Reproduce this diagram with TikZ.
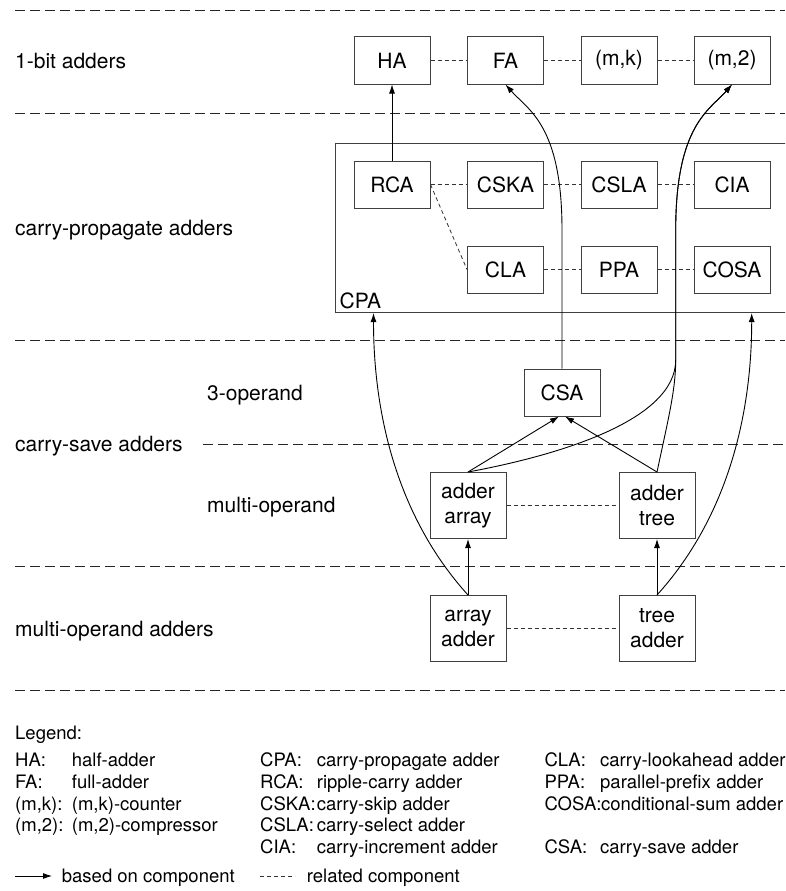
\documentclass[tikz,border=0pt]{standalone}
\usepackage{fontspec}
\setmainfont{TeX Gyre Heros}
\usetikzlibrary{arrows.meta,calc}
\begin{document}
\begin{tikzpicture}[x=1pt,y=-1pt,
  box/.style={draw=black!75, line width=1pt, minimum width=76pt, minimum height=47pt, inner sep=0pt, font=\fontsize{21}{25}\selectfont, align=center},
  tall/.style={box, minimum height=66pt},
  sep/.style={dash pattern=on 10pt off 5pt, line width=0.9pt, black!85},
  rel/.style={dash pattern=on 4pt off 3pt, line width=0.8pt, black!80},
  dep/.style={line width=0.9pt, -{Latex[length=9pt,width=6pt]}},
  lab/.style={anchor=base west, inner sep=0pt, font=\fontsize{21}{25}\selectfont},
  leg/.style={anchor=base west, inner sep=0pt, font=\fontsize{18.5}{22}\selectfont},
]
\path[use as bounding box, clip] (0,0) rectangle (785,891);
\fill[white] (0,0) rectangle (785,891);

% separators
\draw[sep] (15,10) -- (785,10);
\draw[sep] (15,113) -- (785,113);
\draw[sep] (15,340.7) -- (785,340.7);
\draw[sep] (203,444.3) -- (785,444.3);
\draw[sep] (15,566.7) -- (785,566.7);
\draw[sep] (15,690) -- (785,690);

% row labels
\node[lab] (l1) at (15,69) {1-bit adders};
\node[lab] (l2) at (15,235) {carry-propagate adders};
\node[lab] (l3) at (207,400) {3-operand};
\node[lab] (l4) at (15,451.8) {carry-save adders};
\node[lab] (l5) at (207,512) {multi-operand};
\node[lab] (l6) at (15,636) {multi-operand adders};

% CPA frame
\node[draw=black!75, line width=1pt, minimum width=465pt, minimum height=169pt, inner sep=0pt, anchor=north west] (cpa) at (335,143) {};
\node[lab] (cpalab) at (339.5,308.5) {CPA};

% 1-bit adders
\node[box] (HA) at (392,60.5) {HA};
\node[box] (FA) at (505.5,60.5) {FA};
\node[box] (MK) at (619,60.5) {(m,k)};
\node[box] (M2) at (732,60.5) {(m,2)};

% CPAs
\node[box] (RCA) at (392,184.5) {RCA};
\node[box] (CSKA) at (505.5,184.5) {CSKA};
\node[box] (CSLA) at (619,184.5) {CSLA};
\node[box] (CIA) at (732,184.5) {CIA};
\node[box] (CLA) at (505.5,269.5) {CLA};
\node[box] (PPA) at (619,269.5) {PPA};
\node[box] (COSA) at (732,269.5) {COSA};

% CSAs
\node[box] (CSA) at (562,392.5) {CSA};
\node[tall] (AA) at (468,505.5) {adder\\array};
\node[tall] (AT) at (657,505.5) {adder\\tree};
\node[tall] (RA) at (468,628.5) {array\\adder};
\node[tall] (TA) at (657,628.5) {tree\\adder};

\coordinate (J) at (675.7,360);

% related components
\draw[rel] (HA) -- (FA);
\draw[rel] (FA) -- (MK);
\draw[rel] (MK) -- (M2);
\draw[rel] (RCA) -- (CSKA);
\draw[rel] (CSKA) -- (CSLA);
\draw[rel] (CSLA) -- (CIA);
\draw[rel] (RCA.east) -- (CLA.west);
\draw[rel] (CLA) -- (PPA);
\draw[rel] (PPA) -- (COSA);
\draw[rel] (AA) -- (AT);
\draw[rel] (RA) -- (TA);

% based-on components
\draw[dep] (RCA) -- (HA);
\draw[dep] (CSA.north) -- (562,230) .. controls (562,125) and (528,110) .. (FA.south);
\draw[dep] (AA.north) .. controls (560,455) and (675.7,420) .. (J) -- (675.7,230) .. controls (675.7,125) and (709.7,110) .. (M2.south);
\draw[dep] (AT.north) .. controls (668,420) and (675.7,390) .. (J) -- (675.7,230) .. controls (675.7,125) and (709.7,110) .. (M2.south);
\draw[dep] (AA.north) -- ([xshift=-3pt]CSA.south);
\draw[dep] (AT.north) -- ([xshift=3pt]CSA.south);
\draw[dep] (RA) -- (AA);
\draw[dep] (TA) -- (AT);
\draw[dep] (RA.north) .. controls (400,520) and (373.5,420) .. ([xshift=38.5pt]cpa.south west);
\draw[dep] (TA.north) .. controls (725,520) and (751.7,420) .. ([xshift=416.7pt]cpa.south west);

% legend
\node[leg] (lg) at (15,739.3) {Legend:};
\node[leg] (k1) at (15,766.6) {HA:};
\node[leg] (d1) at (71.7,766.6) {half-adder};
\node[leg] (k2) at (15,788.3) {FA:};
\node[leg] (d2) at (71.7,788.3) {full-adder};
\node[leg] (k3) at (15,810) {(m,k):};
\node[leg] (d3) at (71.7,810) {(m,k)-counter};
\node[leg] (k4) at (15,831.7) {(m,2):};
\node[leg] (d4) at (71.7,831.7) {(m,2)-compressor};

\node[leg] (k5) at (260,766.6) {CPA:};
\node[leg] (d5) at (316.7,766.6) {carry-propagate adder};
\node[leg] (k6) at (260,788.3) {RCA:};
\node[leg] (d6) at (316.7,788.3) {ripple-carry adder};
\node[leg] (k7) at (260,810) {CSKA:};
\node[leg] (d7) at (316.7,810) {carry-skip adder};
\node[leg] (k8) at (260,831.7) {CSLA:};
\node[leg] (d8) at (316.7,831.7) {carry-select adder};
\node[leg] (k9) at (260,853.4) {CIA:};
\node[leg] (d9) at (316.7,853.4) {carry-increment adder};

\node[leg] (k10) at (544.3,766.6) {CLA:};
\node[leg] (d10) at (600,766.6) {carry-lookahead adder};
\node[leg] (k11) at (544.3,788.3) {PPA:};
\node[leg] (d11) at (600,788.3) {parallel-prefix adder};
\node[leg] (k12) at (544.3,810) {COSA:};
\node[leg] (d12) at (601,810) {conditional-sum adder};
\node[leg] (k13) at (544.3,853.4) {CSA:};
\node[leg] (d13) at (600,853.4) {carry-save adder};

\coordinate (a1) at (15,876);
\coordinate (a2) at (52,876);
\draw[dep] (a1) -- (a2);
\node[leg] (t1) at (61.7,882) {based on component};
\coordinate (b1) at (260,876);
\coordinate (b2) at (295,876);
\draw[rel] (b1) -- (b2);
\node[leg] (t2) at (306.7,882) {related component};
\end{tikzpicture}
\end{document}
